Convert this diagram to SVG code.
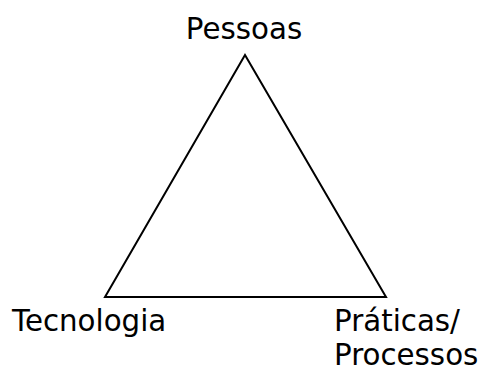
<svg xmlns="http://www.w3.org/2000/svg" width="480" height="370" viewBox="0 0 480 370">
  <style>
    .lbl { font-family: "DejaVu Sans", Verdana, sans-serif; font-size: 29.3px; fill: #000; }
    .edge { fill: none; stroke: #000; stroke-width: 2; stroke-linejoin: miter; }
  </style>
  <rect width="480" height="370" fill="#fff"/>
  <g id="connectors">
    <polygon class="edge" points="245,55 105,297 386,297"/>
  </g>
  <g id="node-pessoas">
    <text class="lbl" x="244" y="39" text-anchor="middle">Pessoas</text>
  </g>
  <g id="node-tecnologia">
    <text class="lbl" x="12" y="331">Tecnologia</text>
  </g>
  <g id="node-praticas">
    <text class="lbl" x="334" y="331">Práticas/</text>
    <text class="lbl" x="334" y="365">Processos</text>
  </g>
</svg>
